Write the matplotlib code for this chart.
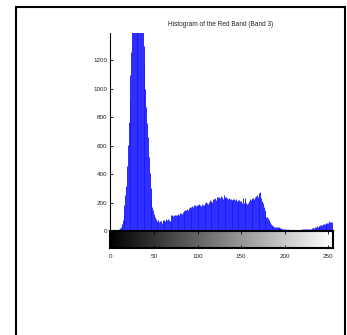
import matplotlib
matplotlib.use('Agg')
import matplotlib.pyplot as plt
import numpy as np
from matplotlib.patches import Rectangle

plt.rcParams['font.family'] = ['Liberation Sans', 'DejaVu Sans']

title = "Histogram of the Red Band (Band 3)"
bins = list(range(256))
counts = [
    2, 1, 3, 2, 4, 3, 5, 6, 8, 10,
    14, 22, 30, 50, 77, 115, 180, 250, 320, 460,
    605, 770, 920, 1100, 1262, 1450, 1600, 1700, 1750, 1800,
    1820, 1780, 1700, 1650, 1580, 1520, 1460, 1420, 1300, 1183,
    1000, 875, 760, 664, 520, 408, 300, 218, 171, 148,
    120, 100, 85, 72, 65, 78, 60, 72, 70, 58,
    75, 70, 77, 68, 82, 80, 85, 74, 72, 70,
    113, 110, 108, 112, 114, 110, 116, 113, 118, 112,
    124, 126, 120, 135, 143, 140, 147, 150, 153, 148,
    160, 167, 158, 170, 176, 168, 180, 183, 178, 185,
    183, 180, 188, 183, 176, 190, 185, 183, 192, 197,
    206, 200, 190, 206, 215, 206, 210, 206, 222, 225,
    230, 218, 236, 241, 225, 241, 235, 248, 241, 228,
    253, 240, 230, 238, 235, 228, 235, 222, 226, 218,
    218, 225, 223, 215, 223, 210, 218, 205, 218, 210,
    213, 200, 230, 195, 208, 230, 195, 192, 198, 210,
    223, 218, 226, 230, 232, 228, 240, 245, 253, 240,
    265, 252, 277, 230, 210, 195, 170, 148, 125, 100,
    100, 90, 77, 65, 49, 42, 38, 35, 30, 28,
    30, 26, 25, 22, 26, 18, 20, 15, 14, 16,
    14, 12, 10, 9, 11, 8, 7, 8, 6, 7,
    7, 6, 8, 7, 5, 6, 7, 9, 8, 10,
    12, 11, 12, 14, 13, 12, 15, 16, 14, 17,
    16, 18, 20, 22, 20, 26, 30, 32, 28, 35,
    38, 42, 40, 45, 49, 46, 50, 52, 55, 58,
    55, 72, 60, 65, 60, 285,
]
yticks = [0, 200, 400, 600, 800, 1000, 1200]
xticks = [0, 50, 100, 150, 200, 250]

W, H = 347, 335
fig = plt.figure(figsize=(W / 100, H / 100), dpi=100)
fig.patch.set_facecolor('white')

# outer frame
fig.patches.append(Rectangle((15.5 / W, -0.02), 329 / W, (H - 7) / H + 0.02,
                             transform=fig.transFigure, fill=False,
                             edgecolor='black', lw=1.5))

# main histogram axes
ax = fig.add_axes([110 / W, (H - 231) / H, 223 / W, 198 / H])
ax.vlines(bins, 0, counts, color='#1a1aff', lw=0.65)
ax.set_xlim(-0.5, 255.5)
ax.set_ylim(0, 1393)
ax.set_yticks(yticks)
ax.set_xticks([])
for s in ['top', 'right', 'bottom']:
    ax.spines[s].set_visible(False)
ax.spines['left'].set_linewidth(0.8)
ax.tick_params(axis='y', direction='in', length=2, width=0.6, labelsize=4.5,
               pad=2, labelcolor='#222222')
ax.patch.set_alpha(0)

fig.text(221 / W, 1 - 25 / H, title, ha='center', va='center', fontsize=4.7,
         color='#222222')

# gray-level colorbar
cax = fig.add_axes([110 / W, (H - 248) / H, 223 / W, 17 / H])
grad = np.arange(256).reshape(1, -1)
cax.imshow(grad, cmap='gray', aspect='auto', extent=(-0.5, 255.5, 0, 1),
           vmin=0, vmax=255, interpolation='nearest')
cax.set_xlim(-0.5, 255.5)
cax.set_ylim(0, 1)
cax.set_yticks([])
cax.set_xticks(xticks)
for s in cax.spines.values():
    s.set_linewidth(1.5)
cax.tick_params(axis='x', direction='in', length=2, width=0.6, labelsize=4.5,
                pad=4, top=True, bottom=True, labelcolor='#222222')

fig.savefig('out.png', dpi=100)
